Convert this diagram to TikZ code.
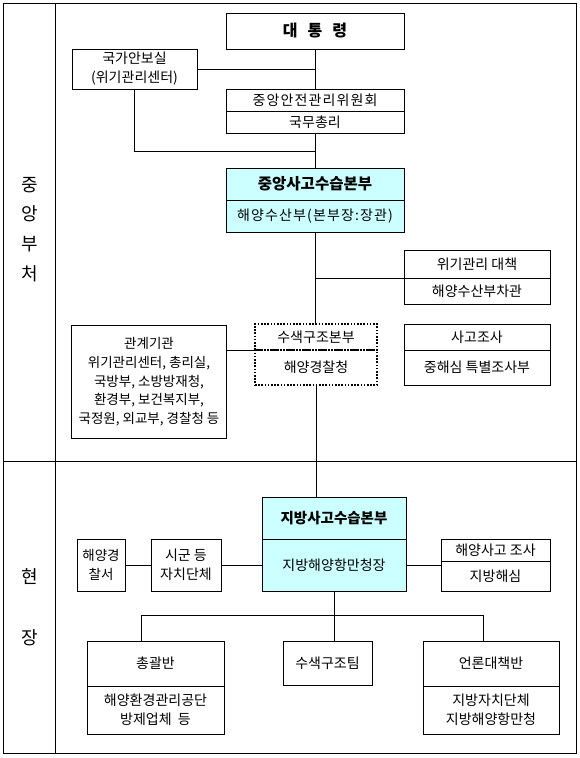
\documentclass[tikz,border=0pt]{standalone}
\usepackage{fontspec}
\newfontfamily\kr{Noto Sans CJK KR}
\newfontfamily\krs[LetterSpace=8]{Noto Sans CJK KR}
\definecolor{lcyan}{RGB}{204,255,255}
\begin{document}
\begin{tikzpicture}[x=1pt,y=-1pt,
  every node/.style={font=\kr\fontsize{14}{19}\selectfont},
  box/.style={draw, line width=0.8pt, inner sep=0pt, align=center},
  cbox/.style={box, fill=lcyan},
  dbox/.style={draw, line width=1.4pt, dash pattern=on 1.6pt off 1.6pt, inner sep=0pt, align=center},
  side/.style={font=\kr\fontsize{18}{20}\selectfont},
  small/.style={font=\kr\fontsize{13.5}{18.5}\selectfont},
  wide/.style={font=\krs\fontsize{14}{19}\selectfont},
  conn/.style={line width=0.8pt}]
\useasboundingbox (0,0) rectangle (580,758);
% frame
\draw[line width=1pt] (3,3) rectangle (576,753);
\draw[line width=1pt] (55,3) -- (55,753);
\draw[line width=1pt] (3,461) -- (576,461);
% side labels
\node[side] (s1) at (30,185) {중};
\node[side] (s2) at (30,214) {앙};
\node[side] (s3) at (30,244) {부};
\node[side] (s4) at (30,274) {처};
\node[side] (s5) at (30,577) {현};
\node[side] (s6) at (30,638) {장};
% central
\node[box, minimum width=178, minimum height=36, font=\kr\fontsize{16}{18}\selectfont\bfseries] (pres) at (315,31) {대\hspace{10pt}통\hspace{10pt}령};
\node[box, minimum width=125, minimum height=40] (nsa) at (134.5,69) {국가안보실\\(위기관리센터)};
\node[box, wide, minimum width=178, minimum height=22] (csc) at (315,100) {중앙안전관리위원회};
\node[box, minimum width=178, minimum height=22] (pm) at (315,122) {국무총리};
\node[cbox, minimum width=178, minimum height=32, font=\kr\fontsize{15.5}{18}\selectfont\bfseries] (chqT) at (315,184) {중앙사고수습본부};
\node[cbox, wide, minimum width=178, minimum height=32] (chqB) at (315,216) {해양수산부(본부장:장관)};
\node[box, minimum width=146, minimum height=28] (crT) at (477,264) {위기관리 대책};
\node[box, minimum width=146, minimum height=26] (crB) at (477,291) {해양수산부차관};
\node[box, small, minimum width=155, minimum height=113] (rel) at (149,381.5) {관계기관\\[1pt]위기관리센터, 총리실,\\국방부, 소방방재청,\\환경부, 보건복지부,\\국정원, 외교부, 경찰청 등};
\node[dbox, minimum width=122, minimum height=26] (sarT) at (316,337) {수색구조본부};
\node[dbox, minimum width=122, minimum height=35] (sarB) at (316,367.5) {해양경찰청};
\node[box, minimum width=146, minimum height=26] (acT) at (477,337) {사고조사};
\node[box, minimum width=146, minimum height=35] (acB) at (477,367.5) {중해심 특별조사부};
% local
\node[cbox, minimum width=144, minimum height=42, font=\kr\fontsize{14.5}{18}\selectfont\bfseries] (lhqT) at (334,518) {지방사고수습본부};
\node[cbox, minimum width=144, minimum height=52] (lhqB) at (334,565) {지방해양항만청장};
\node[box, small, minimum width=48, minimum height=52] (kcg) at (101,565) {해양경\\찰서};
\node[box, minimum width=70, minimum height=52] (loc) at (186,565) {시군 등\\자치단체};
\node[box, minimum width=109, minimum height=22] (invT) at (495.5,550) {해양사고 조사};
\node[box, minimum width=109, minimum height=30] (invB) at (495.5,576) {지방해심};
\node[box, minimum width=137, minimum height=45] (genT) at (155.5,663.5) {총괄반};
\node[box, minimum width=137, minimum height=48] (genB) at (155.5,710) {해양환경관리공단\\방제업체\ \ 등};
\node[box, minimum width=89, minimum height=44] (sart) at (327.5,663) {수색구조팀};
\node[box, minimum width=136, minimum height=45] (medT) at (491,663.5) {언론대책반};
\node[box, minimum width=136, minimum height=48] (medB) at (491,710) {지방자치단체\\지방해양항만청};
% connectors
\coordinate (j1) at (315,151);
\coordinate (bl) at (141,615);
\coordinate (br) at (483,615);
\draw[conn] (pres.south) -- (csc.north);
\draw[conn] (nsa.east) -- (nsa.east -| pres.south);
\draw[conn] (nsa.south) |- (j1);
\draw[conn] (pm.south) -- (chqT.north);
\draw[conn] (chqB.south) -- (chqB.south |- sarT.north);
\draw[conn] (crT.south west) -- (crT.south west -| chqB.south);
\draw[conn] (sarT.south west) -- (sarT.south west -| rel.east);
\draw[conn] (sarB.south) -- (sarB.south |- lhqT.north);
\draw[conn] (kcg.east) -- (loc.west);
\draw[conn] (loc.east) -- (lhqB.west);
\draw[conn] (lhqB.east) -- (lhqB.east -| invB.west);
\draw[conn] (lhqB.south) -- (lhqB.south |- sart.north);
\draw[conn] (bl |- genT.north) -- (bl) -- (br) -- (br |- medT.north);
\end{tikzpicture}
\end{document}
